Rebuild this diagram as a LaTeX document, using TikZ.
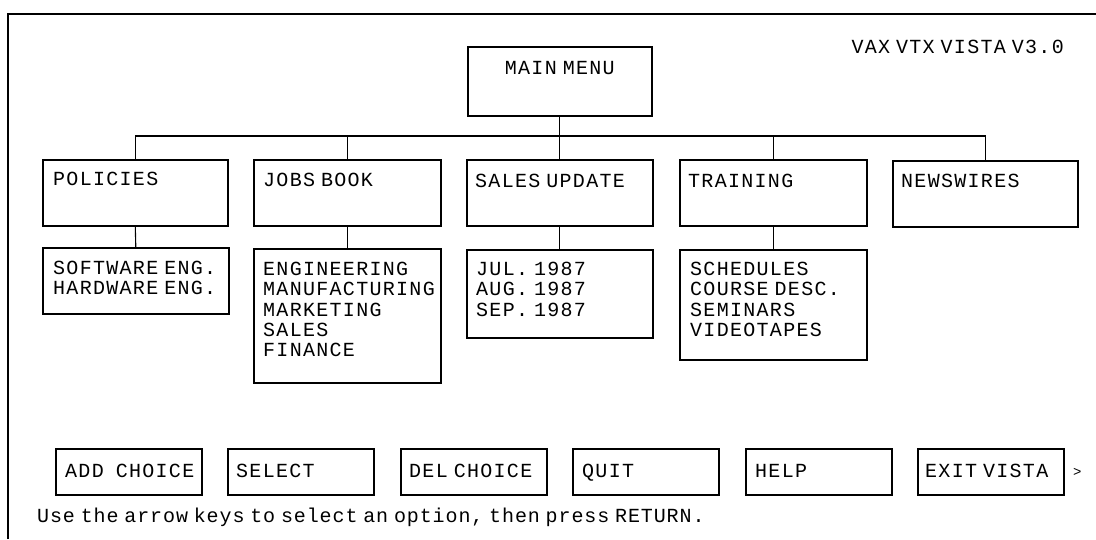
\documentclass[tikz,border=0pt]{standalone}
\usepackage{fontspec}
\newfontfamily\vaxfont[LetterSpace=6.5, WordSpace=0.45]{Liberation Mono}
\newfontfamily\hintfont[LetterSpace=4.5, WordSpace=0.45]{Liberation Mono}
\begin{document}
\begin{tikzpicture}[x=1pt,y=-1pt,
	box/.style={draw, line width=1.6pt, anchor=north west, inner sep=0pt},
	txt/.style={anchor=base west, inner sep=0pt, font=\fontsize{20}{20.3}\selectfont\vaxfont},
	list/.style={anchor=north west, inner sep=0pt, align=left, font=\fontsize{20}{20.3}\selectfont\vaxfont},
	link/.style={line width=1.1pt}
	]

\useasboundingbox (0,0) rectangle (1096,539);
\draw[line width=1.3pt] (8,539) -- (8,14) -- (1096,14);

\node[txt, anchor=base east] (ver) at (1064,53) {VAX VTX VISTA V3.0};

% main menu
\node[box, minimum width=184pt, minimum height=69pt] (main) at (467,46) {};
\node[txt, anchor=base] (mainlbl) at ([yshift=-28pt]main.north) {MAIN MENU};

% first row
\node[box, minimum width=185pt, minimum height=66pt] (pol) at (42,159) {};
\node[box, minimum width=187pt, minimum height=66pt] (jobs) at (253,159) {};
\node[box, minimum width=186pt, minimum height=66pt] (sales) at (466,159) {};
\node[box, minimum width=187pt, minimum height=66pt] (train) at (679,159) {};
\node[box, minimum width=185pt, minimum height=66pt] (news) at (892,160) {};

\node[txt] (pollbl) at ([shift={(11,26)}]pol.north west) {POLICIES};
\node[txt] (jobslbl) at ([shift={(10,27)}]jobs.north west) {JOBS BOOK};
\node[txt] (saleslbl) at ([shift={(9,28)}]sales.north west) {SALES UPDATE};
\node[txt] (trainlbl) at ([shift={(9,28)}]train.north west) {TRAINING};
\node[txt] (newslbl) at ([shift={(9,27)}]news.north west) {NEWSWIRES};

% sub lists
\node[box, minimum width=186pt, minimum height=66pt] (polsub) at (42,247) {};
\node[box, minimum width=187pt, minimum height=134pt] (jobsub) at (253,248) {};
\node[box, minimum width=186pt, minimum height=88pt] (salesub) at (466,249) {};
\node[box, minimum width=187pt, minimum height=110pt] (trainsub) at (679,249) {};

\node[list] (pollist) at ([shift={(11,14)}]polsub.north west) {SOFTWARE ENG.\\HARDWARE ENG.};
\node[list] (joblist) at ([shift={(10,14)}]jobsub.north west) {ENGINEERING\\MANUFACTURING\\MARKETING\\SALES\\FINANCE};
\node[list] (salelist) at ([shift={(10,13)}]salesub.north west) {JUL. 1987\\AUG. 1987\\SEP. 1987};
\node[list] (trainlist) at ([shift={(11,13)}]trainsub.north west) {SCHEDULES\\COURSE DESC.\\SEMINARS\\VIDEOTAPES};

% tree lines
\coordinate (bus) at (559,136);
\draw[link] (main.south) -- (sales.north);
\draw[link] (pol.north) |- (bus) -| (news.north);
\draw[link] (jobs.north) -- (jobs.north |- bus);
\draw[link] (train.north) -- (train.north |- bus);
\draw[link] (pol.south) -- (polsub.north);
\draw[link] (jobs.south) -- (jobsub.north);
\draw[link] (sales.south) -- (salesub.north);
\draw[link] (train.south) -- (trainsub.north);

% buttons
\node[box, minimum width=146pt, minimum height=46pt] (add) at (55,448) {};
\node[box, minimum width=146pt, minimum height=46pt] (sel) at (227,448) {};
\node[box, minimum width=146pt, minimum height=46pt] (del) at (400,448) {};
\node[box, minimum width=146pt, minimum height=46pt] (quit) at (572,448) {};
\node[box, minimum width=146pt, minimum height=46pt] (help) at (745,448) {};
\node[box, minimum width=146pt, minimum height=46pt] (exit) at (917,448) {};

\node[txt] (addlbl) at ([shift={(10,29)}]add.north west) {ADD\hspace{6pt} CHOICE};
\node[txt] (sellbl) at ([shift={(9,29)}]sel.north west) {SELECT};
\node[txt] (dellbl) at ([shift={(9,29)}]del.north west) {DEL CHOICE};
\node[txt] (quitlbl) at ([shift={(10,29)}]quit.north west) {QUIT};
\node[txt] (helplbl) at ([shift={(10,29)}]help.north west) {HELP};
\node[txt] (exitlbl) at ([shift={(8,29)}]exit.north west) {EXIT VISTA};
\node[txt, anchor=west, font=\fontsize{14}{14}\selectfont\vaxfont] (more) at (1073,472) {>};

\node[txt, font=\fontsize{20}{20}\selectfont\hintfont] (hint) at (37,522) {Use the arrow keys to select an option, then press RETURN.};
\end{tikzpicture}
\end{document}
